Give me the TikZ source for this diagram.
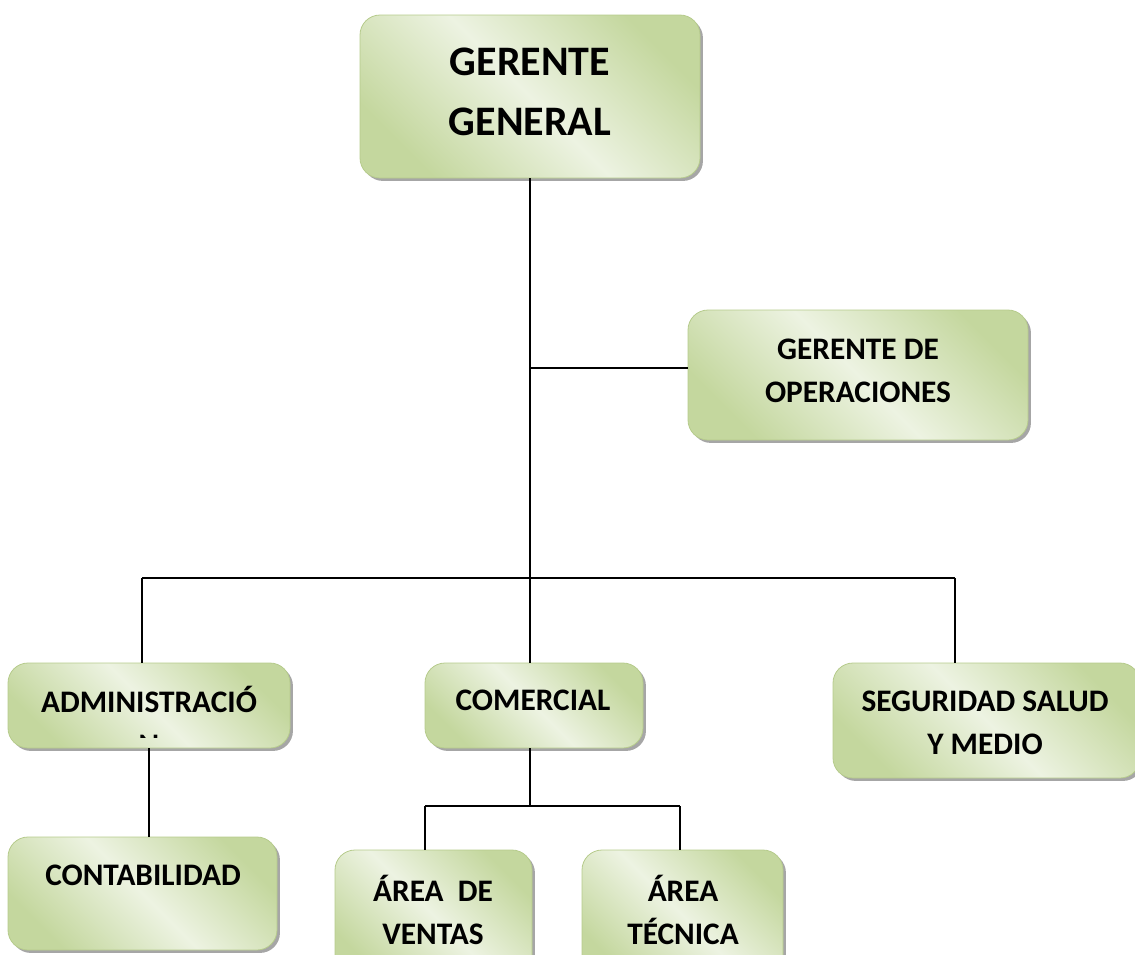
\documentclass[tikz,border=0pt]{standalone}
\usepackage{fontspec}
\setmainfont{Carlito}
\usetikzlibrary{positioning, shadows}
\definecolor{boxdark}{RGB}{196,215,158}
\definecolor{boxlight}{RGB}{237,243,226}
\definecolor{boxline}{RGB}{182,203,140}

\begin{document}
\begin{tikzpicture}[
    x=0.75pt, y=-0.75pt,
    orgbox/.style={rounded corners=15pt, draw=boxline, line width=0.6pt,
      top color=boxdark, bottom color=boxdark, middle color=boxlight,
      shading angle=-45,
      drop shadow={shadow xshift=2.2pt, shadow yshift=-2.2pt, fill=black!35, opacity=1}},
    boxsize/.style 2 args={minimum width=#1*0.75pt, minimum height=#2*0.75pt},
    orgtext/.style={align=center, inner sep=0pt,
      font=\fontsize{23.5}{32}\selectfont\bfseries},
    bigtext/.style={align=center, inner sep=0pt,
      font=\fontsize{31.5}{45}\selectfont\bfseries},
    conn/.style={line width=1pt}
  ]
  \clip (0,0) rectangle (1135,954);

  % boxes
  \node[orgbox, boxsize={340}{163}] (gg) at (530,96.5) {};
  \node[orgbox, boxsize={340}{130}] (go) at (858,375) {};
  \node[orgbox, boxsize={282}{85}] (adm) at (149,705.5) {};
  \node[orgbox, boxsize={218}{85}] (com) at (534,705.5) {};
  \node[orgbox, boxsize={307}{115}] (seg) at (986.5,720.5) {};
  \node[orgbox, boxsize={269}{113}] (con) at (142.5,893.5) {};
  \node[orgbox, boxsize={197}{130}] (av) at (433.5,915) {};
  \node[orgbox, boxsize={201}{130}] (at) at (682.5,915) {};

  % texts
  \node[bigtext] (ggtext) at (530,92) {GERENTE\\GENERAL};
  \node[orgtext] (gotext) at (858,371) {GERENTE DE\\OPERACIONES};
  \node[orgtext] (admtext) at (149,699) {ADMINISTRACIÓ};
  \begin{scope}
    \clip (100,700) rectangle (200,737);
    \node[orgtext] (admrest) at (149,745) {N};
  \end{scope}
  \node[orgtext] (comtext) at (533,700) {COMERCIAL};
  \node[orgtext] (segtext) at (985,723) {SEGURIDAD SALUD\\Y MEDIO};
  \node[orgtext] (context) at (143,875) {CONTABILIDAD};
  \node[orgtext] (avtext) at (433,910) {ÁREA~ DE\\VENTAS};
  \node[orgtext] (attext) at (683,910) {ÁREA\\TÉCNICA};

  % connectors
  \coordinate (bus) at (530,578);
  \coordinate (opj) at (530,368);
  \coordinate (busL) at (142,578);
  \coordinate (busR) at (955,578);
  \coordinate (cj) at (530,806);
  \coordinate (cjL) at (425,806);
  \coordinate (cjR) at (680,806);

  \draw[conn] (gg.south -| bus) -- (bus);
  \draw[conn] (opj) -- (opj -| go.west);
  \draw[conn] (busL) -- (busR);
  \draw[conn] (busL) -- (busL |- adm.north);
  \draw[conn] (bus) -- (bus |- com.north);
  \draw[conn] (busR) -- (busR |- seg.north);
  \draw[conn] (adm.south) -- (adm.south |- con.north);
  \draw[conn] (cj |- com.south) -- (cj);
  \draw[conn] (cjL) -- (cjR);
  \draw[conn] (cjL) -- (cjL |- av.north);
  \draw[conn] (cjR) -- (cjR |- at.north);
\end{tikzpicture}
\end{document}
